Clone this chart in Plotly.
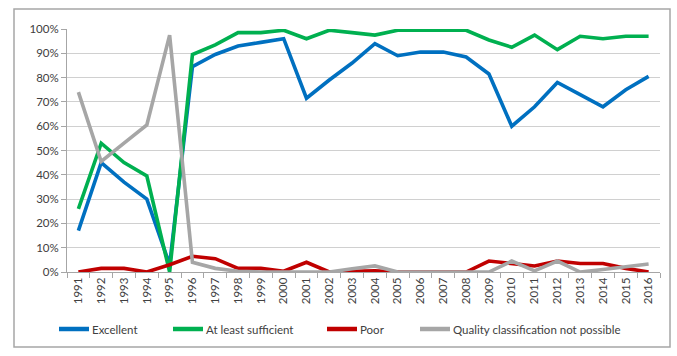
import plotly.graph_objects as go

years = [str(y) for y in range(1991, 2017)]
excellent = [17, 45, 37, 30, 3, 84.5, 89.5, 93, 94.5, 96, 71.5, 79, 86, 94, 89, 90.5, 90.5, 88.5,
             81.5, 60, 68, 78, 73, 68, 75, 80.5]
at_least_sufficient = [26, 53, 45, 39.5, 0, 89.5, 93.5, 98.5, 98.5, 99.5, 96, 99.5, 98.5, 97.5, 99.5,
                       99.5, 99.5, 99.5, 95.5, 92.5, 97.5, 91.5, 97, 96, 97, 97]
poor = [0, 1.5, 1.5, 0, 3, 6.5, 5.5, 1.5, 1.5, 0.3, 4, 0, 0.3, 0.5, 0, 0, 0, 0, 4.5, 3.5, 2.5, 4.5,
        3.5, 3.5, 1.5, 0]
not_possible = [74, 45.5, 53, 60.5, 97.5, 4, 1.5, 0.3, 0, 0, 0, 0, 1.3, 2.5, 0, 0, 0, 0, 0, 4.5, 0.5,
                4.5, 0, 1, 2, 3.3]

series = [
    ("Excellent", excellent, "#0070C0"),
    ("At least sufficient", at_least_sufficient, "#00B050"),
    ("Poor", poor, "#C00000"),
    ("Quality classification not possible", not_possible, "#A6A6A6"),
]

W, H = 677, 356
ML, MR, MT, MB = 67, 17, 29, 84
PW, PH = W - ML - MR, H - MT - MB


def px_x(px):
    return (px - ML) / PW


def px_y(py):
    return (H - MB - py) / PH


fig = go.Figure()
for name, vals, color in series:
    fig.add_trace(go.Scatter(x=years, y=[v / 100 for v in vals], name=name, mode="lines",
                             line=dict(color=color, width=3.6), showlegend=False))

font_family = "Lato, 'Open Sans', sans-serif"

# manual legend (Excel-like short line samples)
legend_starts = [59, 173, 327, 420]
legend_y = 329
shapes = [dict(type="rect", xref="paper", yref="paper", x0=px_x(14), x1=px_x(670), y0=px_y(347),
               y1=px_y(9), line=dict(color="#A6A6A6", width=1.5), fillcolor="rgba(0,0,0,0)",
               layer="below")]
annotations = []
for (name, _, color), sx in zip(series, legend_starts):
    shapes.append(dict(type="line", xref="paper", yref="paper", x0=px_x(sx), x1=px_x(sx + 30),
                       y0=px_y(legend_y), y1=px_y(legend_y), line=dict(color=color, width=4.5)))
    annotations.append(dict(xref="paper", yref="paper", x=px_x(sx + 31), y=px_y(legend_y), text=name,
                            showarrow=False, xanchor="left", yanchor="middle",
                            font=dict(family=font_family, size=11.5, color="#404040")))

fig.update_layout(
    width=W, height=H,
    margin=dict(l=ML, r=MR, t=MT, b=MB),
    paper_bgcolor="white", plot_bgcolor="white",
    font=dict(family=font_family, size=11, color="#404040"),
    showlegend=False,
    xaxis=dict(type="category", tickangle=-90, showgrid=False, showline=True, linecolor="#A6A6A6",
               ticks="outside", tickson="boundaries", ticklen=5, tickcolor="#A6A6A6",
               tickfont=dict(size=11.5, color="#404040"), range=[-0.5, 25.5], automargin=False),
    yaxis=dict(range=[0, 1], dtick=0.1, tickformat=".0%", showgrid=True, gridcolor="#D0D0D0",
               gridwidth=1, zeroline=False, showline=True, linecolor="#A6A6A6", ticks="outside",
               ticklen=5, tickcolor="#A6A6A6", automargin=False,
               tickfont=dict(size=11.5, color="#404040")),
    shapes=shapes,
    annotations=annotations,
)

fig.write_html("out.html", post_script="document.body.style.margin='0';",
               config={"displayModeBar": False})
